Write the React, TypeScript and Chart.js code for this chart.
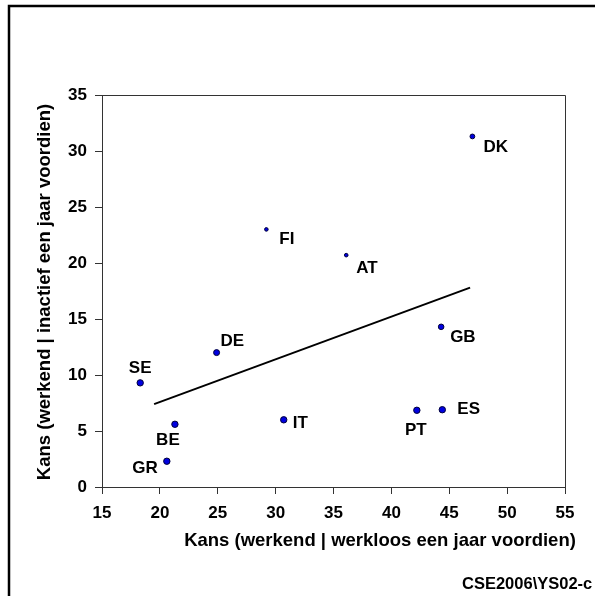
import React, { useEffect, useRef } from "react";
import { Chart, registerables } from "chart.js";

Chart.register(...registerables);

// Country codes and their two probabilities (%)
const countries = ["DK", "FI", "AT", "GB", "DE", "SE", "BE", "IT", "PT", "ES", "GR"];
const kansWerkloos = [47.0, 29.2, 36.1, 44.3, 24.9, 18.3, 21.3, 30.7, 42.2, 44.4, 20.6];
const kansInactief = [31.3, 23.0, 20.7, 14.3, 12.0, 9.3, 5.6, 6.0, 6.85, 6.9, 2.3];

// Fitted regression line end points
const trendX = [19.5, 46.8];
const trendY = [7.4, 17.8];

const xTicks = [15, 20, 25, 30, 35, 40, 45, 50, 55];
const yTicks = [0, 5, 10, 15, 20, 25, 30, 35];

const xTitle = "Kans (werkend | werkloos een jaar voordien)";
const yTitle = "Kans (werkend | inactief een jaar voordien)";
const sourceNote = "CSE2006\\YS02-c";

// Where each country code sits relative to its marker (dx, dy, alignment)
const labelPlacement: [number, number, CanvasTextAlign][] = [
  [11, 11, "left"],
  [13, 10, "left"],
  [10, 13, "left"],
  [9, 10, "left"],
  [4, -11, "left"],
  [0, -15, "center"],
  [-7, 16, "center"],
  [9, 4, "left"],
  [-1, 20, "center"],
  [15, 0, "left"],
  [-9, 7, "right"],
];
const markerRadius = [2.4, 1.8, 1.8, 2.8, 3, 3.2, 3.2, 3.2, 3.2, 3.2, 3.2];

const FONT = "'Liberation Sans', Arial, sans-serif";

const decorations = {
  id: "decorations",
  afterDraw(chart: any) {
    const { ctx, chartArea, scales } = chart;
    const { left, right, top, bottom } = chartArea;
    ctx.save();
    // outer frame
    ctx.strokeStyle = "#000";
    ctx.lineWidth = 2.5;
    ctx.beginPath();
    ctx.moveTo(9, 700);
    ctx.lineTo(9, 6);
    ctx.lineTo(700, 6);
    ctx.stroke();
    // top and right sides of the plot box
    ctx.strokeStyle = "#333";
    ctx.lineWidth = 1;
    ctx.beginPath();
    ctx.moveTo(left, Math.round(top) + 0.5);
    ctx.lineTo(Math.round(right) + 0.5, Math.round(top) + 0.5);
    ctx.lineTo(Math.round(right) + 0.5, bottom);
    ctx.stroke();

    // country labels
    ctx.fillStyle = "#000";
    ctx.font = `bold 17px ${FONT}`;
    ctx.textBaseline = "middle";
    countries.forEach((c, i) => {
      const px = scales.x.getPixelForValue(kansWerkloos[i]);
      const py = scales.y.getPixelForValue(kansInactief[i]);
      const [dx, dy, align] = labelPlacement[i];
      ctx.textAlign = align;
      ctx.fillText(c, px + dx, py + dy);
    });

    // axis titles
    ctx.font = `bold 18.5px ${FONT}`;
    ctx.textAlign = "center";
    ctx.fillText(xTitle, 380, 541);
    ctx.save();
    ctx.translate(45, 292);
    ctx.rotate(-Math.PI / 2);
    ctx.fillText(yTitle, 0, 0);
    ctx.restore();

    // source note
    ctx.font = `bold 16.5px ${FONT}`;
    ctx.textAlign = "left";
    ctx.fillText(sourceNote, 462, 584);
    ctx.restore();
  },
};

export default function App() {
  const canvasRef = useRef<HTMLCanvasElement | null>(null);

  useEffect(() => {
    const canvas = canvasRef.current;
    if (!canvas) return;
    const chart = new Chart(canvas, {
      type: "scatter",
      data: {
        datasets: [
          {
            type: "line",
            data: trendX.map((x, i) => ({ x, y: trendY[i] })),
            borderColor: "#000",
            borderWidth: 2,
            pointRadius: 0,
            fill: false,
          },
          {
            data: kansWerkloos.map((x, i) => ({ x, y: kansInactief[i] })),
            backgroundColor: "#0000e0",
            borderColor: "#00003a",
            borderWidth: 1,
            pointRadius: markerRadius,
          },
        ],
      },
      options: {
        responsive: false,
        animation: false,
        layout: { padding: { top: 95, right: 30, left: 0, bottom: 0 } },
        plugins: { legend: { display: false }, tooltip: { enabled: false } },
        scales: {
          x: {
            type: "linear",
            min: 15,
            max: 55,
            afterFit: (s: any) => {
              s.height = 109;
            },
            afterBuildTicks: (s: any) => {
              s.ticks = xTicks.map((v) => ({ value: v }));
            },
            grid: { display: true, drawOnChartArea: false, drawTicks: true, tickLength: 7, color: "#333" },
            border: { display: true, color: "#333", width: 1 },
            ticks: {
              color: "#000",
              font: { family: FONT, size: 17, weight: "bold" },
              padding: 9,
            },
          },
          y: {
            type: "linear",
            min: 0,
            max: 35,
            afterFit: (s: any) => {
              s.width = 102;
            },
            afterBuildTicks: (s: any) => {
              s.ticks = yTicks.map((v) => ({ value: v }));
            },
            grid: { display: true, drawOnChartArea: false, drawTicks: true, tickLength: 7, color: "#333" },
            border: { display: true, color: "#333", width: 1 },
            ticks: {
              color: "#000",
              font: { family: FONT, size: 17, weight: "bold" },
              padding: 8,
            },
          },
        },
      },
      plugins: [decorations],
    });
    return () => chart.destroy();
  }, []);

  return (
    <div style={{ position: "absolute", left: 0, top: 0, width: 595, height: 596, background: "#fff" }}>
      <canvas ref={canvasRef} width={595} height={596} style={{ display: "block" }} />
    </div>
  );
}
